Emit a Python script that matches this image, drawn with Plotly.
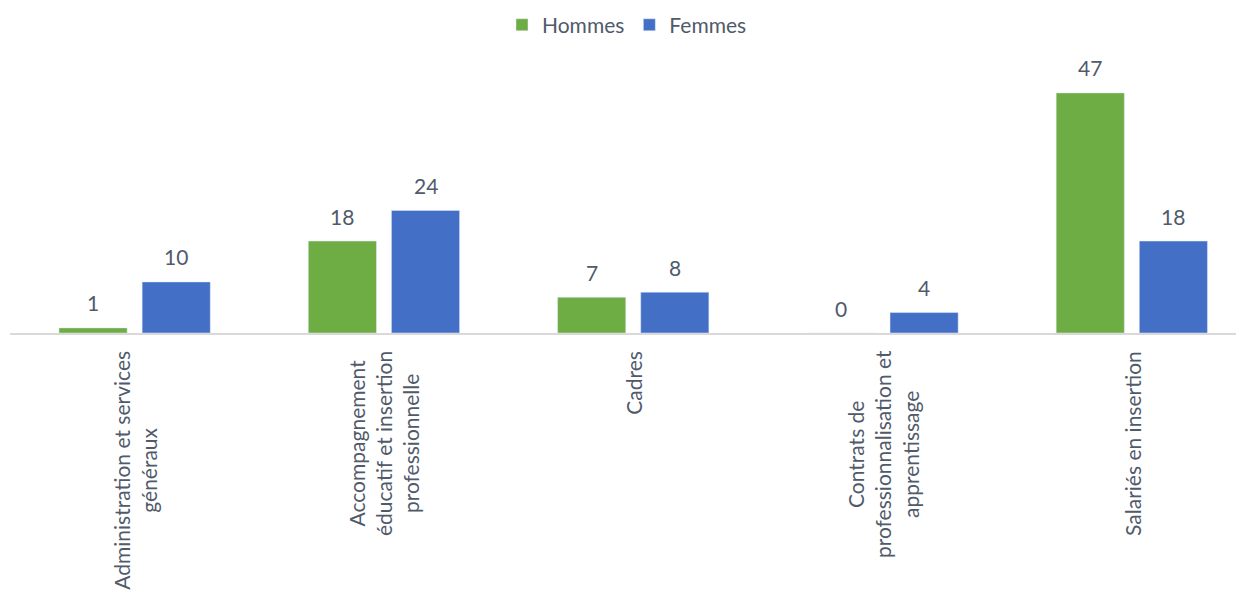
import plotly.graph_objects as go

categories = [
    "Administration et services<br>généraux",
    "Accompagnement<br>éducatif et insertion<br>professionnelle",
    "Cadres",
    "Contrats de<br>professionnalisation et<br>apprentissage",
    "Salariés en insertion",
]
hommes = [1, 18, 7, 0, 47]
femmes = [10, 24, 8, 4, 18]

TEXT = "#505A6B"
FONT = "Lato"
SIZE = 21
BARGAP = 0.333

fig = go.Figure()
series = [("Hommes", hommes, "#6EAC44"), ("Femmes", femmes, "#4370C6")]
slot = (1 - BARGAP) / len(series)
for k, (name, vals, col) in enumerate(series):
    fig.add_trace(go.Bar(
        name=name, x=list(range(len(categories))), y=vals,
        marker=dict(color=col),
    ))
    # value labels above each bar
    off = (k - (len(series) - 1) / 2) * slot
    for i, v in enumerate(vals):
        fig.add_annotation(
            x=i + off, y=v, xref="x", yref="y", text=str(v), showarrow=False,
            yanchor="middle", yshift=25,
            font=dict(size=SIZE, color=TEXT, family=FONT),
        )

# category labels, rotated, lines centred on each other
for i, c in enumerate(categories):
    fig.add_annotation(
        x=i, y=-0.055, xref="x", yref="paper", text=c, textangle=-90,
        showarrow=False, xanchor="center", yanchor="top", align="center",
        font=dict(size=SIZE, color=TEXT, family=FONT),
    )

# page body has an 8px margin, so the figure is shrunk by that amount
fig.update_layout(
    width=1236, height=595,
    margin=dict(l=2, r=0, t=42, b=270, autoexpand=False),
    paper_bgcolor="white", plot_bgcolor="white",
    barmode="group", bargap=BARGAP, bargroupgap=0.18,
    font=dict(family=FONT, color=TEXT),
    showlegend=True,
    legend=dict(
        orientation="h", x=0.5, xanchor="center", y=1.088, yanchor="middle",
        font=dict(size=SIZE, color=TEXT, family=FONT),
        itemwidth=30, traceorder="normal",
    ),
    xaxis=dict(
        range=[-0.5, 4.45], showticklabels=False, ticks="",
        showline=True, linecolor="#D9D9D9", linewidth=1.5, showgrid=False,
        zeroline=False,
    ),
    yaxis=dict(range=[0, 55.4], visible=False, showgrid=False, zeroline=False),
)

fig.write_html("out.html")
